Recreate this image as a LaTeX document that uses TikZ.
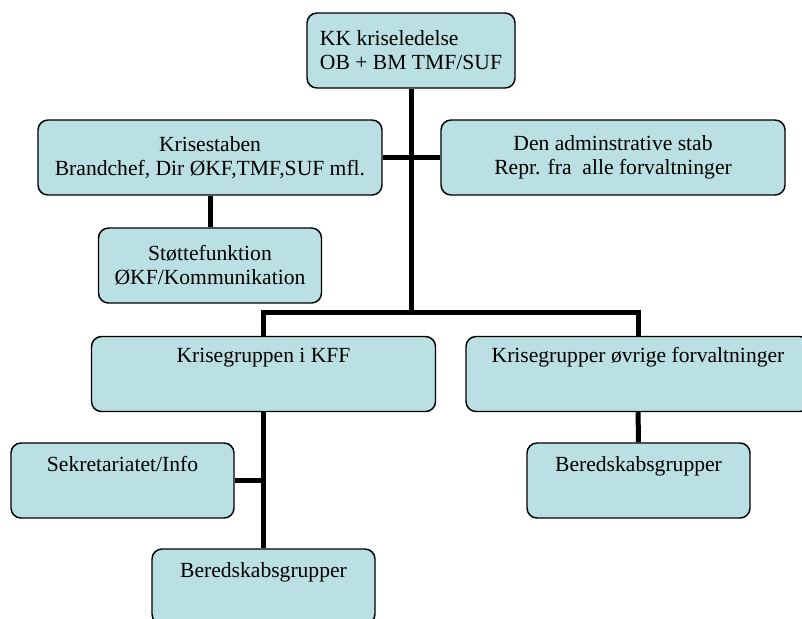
\documentclass[tikz,border=0pt]{standalone}
\usepackage{fontspec}
\setmainfont{Liberation Serif}
\usetikzlibrary{positioning}
\definecolor{unitfill}{RGB}{187,224,227}
\tikzstyle{unit} = [rectangle, rounded corners=7.5pt, draw=black, fill=unitfill, line width=1.1pt, minimum height=56.25pt, align=center, font=\fontsize{16.2}{18}\selectfont]
\tikzstyle{wideunit} = [unit, minimum width=258pt]
\tikzstyle{smallunit} = [unit, minimum width=167.25pt]
\tikzstyle{headunit} = [unit, minimum width=156pt, align=left]
\tikzstyle{topwide} = [text height=10pt, text depth=28pt]
\tikzstyle{topsmall} = [text height=10pt, text depth=23pt]
\tikzstyle{link} = [line width=3.75pt]

\begin{document}
\begin{tikzpicture}[x=0.75pt, y=-0.75pt]

    \useasboundingbox (0,0) rectangle (802,618);

    \node (ledelse) [headunit] at (411, 50.5) {KK kriseledelse\\OB + BM TMF/SUF};

    \node (krisestab) [wideunit] at (210, 157.5) {Krisestaben\\Brandchef, Dir ØKF,TMF,SUF mfl.};
    \node (admstab) [wideunit] at (613, 157.5) {Den adminstrative stab\\Repr. fra\ \ alle forvaltninger};

    \node (stotte) [smallunit] at (210, 265.5) {Støttefunktion\\ØKF/Kommunikation};

    \node (kff) [wideunit, topwide] at (263.5, 374) {Krisegruppen i KFF};
    \node (ovrige) [wideunit, topwide] at (638, 374) {Krisegrupper øvrige forvaltninger};

    \node (sekr) [smallunit, topsmall] at (122.5, 480.5) {Sekretariatet/Info};
    \node (beredkff) [smallunit, topsmall] at (263.5, 586.5) {Beredskabsgrupper};
    \node (beredovr) [smallunit, topsmall] at (638.5, 480.5) {Beredskabsgrupper};

    \coordinate (split) at (411, 312);

    \draw [link] (ledelse) -- (split);
    \draw [link] (krisestab) -- (admstab);
    \draw [link] (krisestab) -- (stotte);
    \draw [link] (kff.north) |- (split) -| (ovrige.north);

    \draw [link] (kff) -- (beredkff);
    \draw [link] (sekr.east) -- (sekr.east -| kff.south);
    \draw [link] (ovrige) -- (beredovr);

\end{tikzpicture}
\end{document}
